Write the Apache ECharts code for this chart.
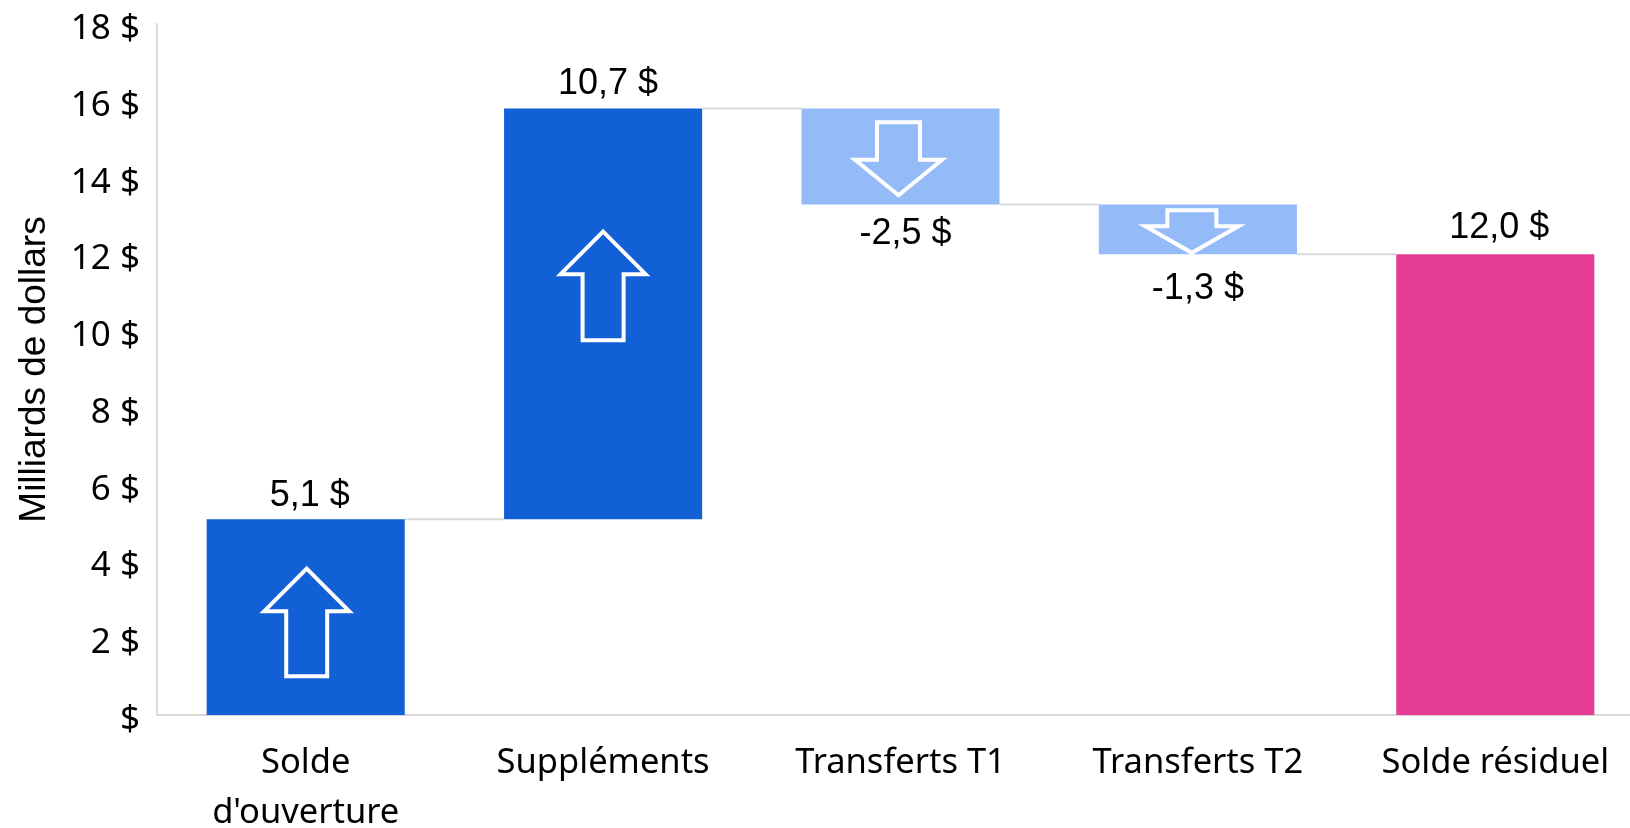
<!DOCTYPE html>
<html><head><meta charset="utf-8">
<style>html,body{margin:0;padding:0;background:#fff;overflow:hidden}#c{width:1630px;height:828px}</style>
<script src="https://cdn.jsdelivr.net/npm/echarts@6/dist/echarts.min.js"></script>
</head><body><div id="c"></div>
<script>
const categories = ["Solde\nd'ouverture", "Suppléments", "Transferts T1", "Transferts T2", "Solde résiduel"];
const amounts = [5.1, 10.7, -2.5, -1.3, 12.0];
const barBottoms = [0, 5.1, 13.3, 12.0, 0];
const barTops = [5.1, 15.8, 15.8, 13.3, 12.0];
const connectorLevels = [5.1, 15.8, 13.3, 12.0];
const arrowTails = [0.96, 9.71, 15.49, 13.2];
const arrowTips = [3.85, 12.63, 13.5, 12.0];
const yTicks = [0, 2, 4, 6, 8, 10, 12, 14, 16, 18];
const yTitle = "Milliards de dollars";

const colors = ["#1160D6", "#1160D6", "#94BAF7", "#94BAF7", "#E63D94"];
const labelOffsets = [[4, 3], [5, 2], [5, 4], [0, 9], [4, 0]];
const arrowShapes = [
  {head: 93, shaft: 45, headLen: 46, dx: 1},
  {head: 93, shaft: 45, headLen: 46, dx: 0},
  {head: 95, shaft: 47, headLen: 39, dx: -2},
  {head: 101, shaft: 53, headLen: 30, dx: -6}
];
const fmt = v => v.toFixed(1).replace('.', ',') + ' $';
const ARIAL = '"Liberation Sans", Arial, sans-serif';
const UI = '"Noto Sans", sans-serif';

const chart = echarts.init(document.getElementById('c'), null, {renderer: 'canvas'});
chart.setOption({
  animation: false,
  backgroundColor: '#fff',
  grid: {left: 157, top: 24, width: 1487, height: 691, containLabel: false, outerBoundsMode: 'none'},
  xAxis: {
    type: 'category', data: categories,
    axisLine: {lineStyle: {color: '#D9D9D9', width: 2}},
    axisTick: {show: false},
    axisLabel: {color: '#000', fontFamily: UI, fontSize: 34.5, lineHeight: 50, margin: 23, interval: 0}
  },
  yAxis: {
    type: 'value', min: 0, max: 18, interval: 2,
    name: yTitle, nameLocation: 'middle', nameGap: 104, nameRotate: 90,
    nameTextStyle: {color: '#000', fontFamily: ARIAL, fontSize: 37},
    axisLine: {show: true, lineStyle: {color: '#D9D9D9', width: 2}},
    axisTick: {show: false},
    splitLine: {show: false},
    axisLabel: {
      color: '#000', fontFamily: UI, fontSize: 35, margin: 17,
      formatter: v => '{t|' + ((yTicks.includes(v) && v !== 0) ? v + ' $' : '$') + '}',
      rich: {t: {color: '#000', fontFamily: UI, fontSize: 35, padding: [10, 0, 0, 0]}}
    }
  },
  series: [
    {
      type: 'custom', z: 1, silent: true,
      data: connectorLevels.map((v, i) => [i, v]),
      renderItem(params, api) {
        const i = api.value(0), lv = api.value(1);
        const band = api.size([1, 0])[0];
        const half = band * 0.333;
        const a = api.coord([i, lv]), b = api.coord([i + 1, lv]);
        return {type: 'line', shape: {x1: a[0] + half, y1: a[1], x2: b[0] - half, y2: b[1]},
                style: {stroke: '#D9D9D9', lineWidth: 2}};
      }
    },
    {
      type: 'bar', stack: 'w', barWidth: '66.6%', silent: true, z: 2,
      itemStyle: {color: 'transparent'},
      data: barBottoms
    },
    {
      type: 'bar', stack: 'w', barWidth: '66.6%', silent: true, z: 2,
      data: barTops.map((t, i) => ({
        value: +(t - barBottoms[i]).toFixed(1),
        itemStyle: {color: colors[i]},
        label: {
          show: true,
          position: amounts[i] < 0 ? 'bottom' : 'top',
          distance: 8,
          offset: labelOffsets[i],
          formatter: fmt(amounts[i]),
          color: '#000', fontFamily: ARIAL, fontSize: 36
        }
      }))
    },
    {
      type: 'custom', z: 3, silent: true,
      data: arrowTails.map((t, i) => [i, t, arrowTips[i]]),
      renderItem(params, api) {
        const i = api.value(0);
        const tail = api.coord([i, api.value(1)]), tip = api.coord([i, api.value(2)]);
        const s = arrowShapes[i], cx = tail[0] + s.dx;
        const dir = tip[1] < tail[1] ? 1 : -1;      // 1 = pointing up
        const sw = 4, h = s.head / 2 - sw, w = s.shaft / 2 - sw / 2;
        const tipY = tip[1] + dir * 1.5, tailY = tail[1] - dir * sw / 2;
        const baseY = tip[1] + dir * (s.headLen - sw / 2);
        return {
          type: 'polygon',
          shape: {points: [[cx, tipY], [cx + h, baseY], [cx + w, baseY], [cx + w, tailY],
                           [cx - w, tailY], [cx - w, baseY], [cx - h, baseY]]},
          style: {fill: 'none', stroke: '#fff', lineWidth: sw, lineJoin: 'miter'}
        };
      }
    }
  ]
});
</script></body></html>
